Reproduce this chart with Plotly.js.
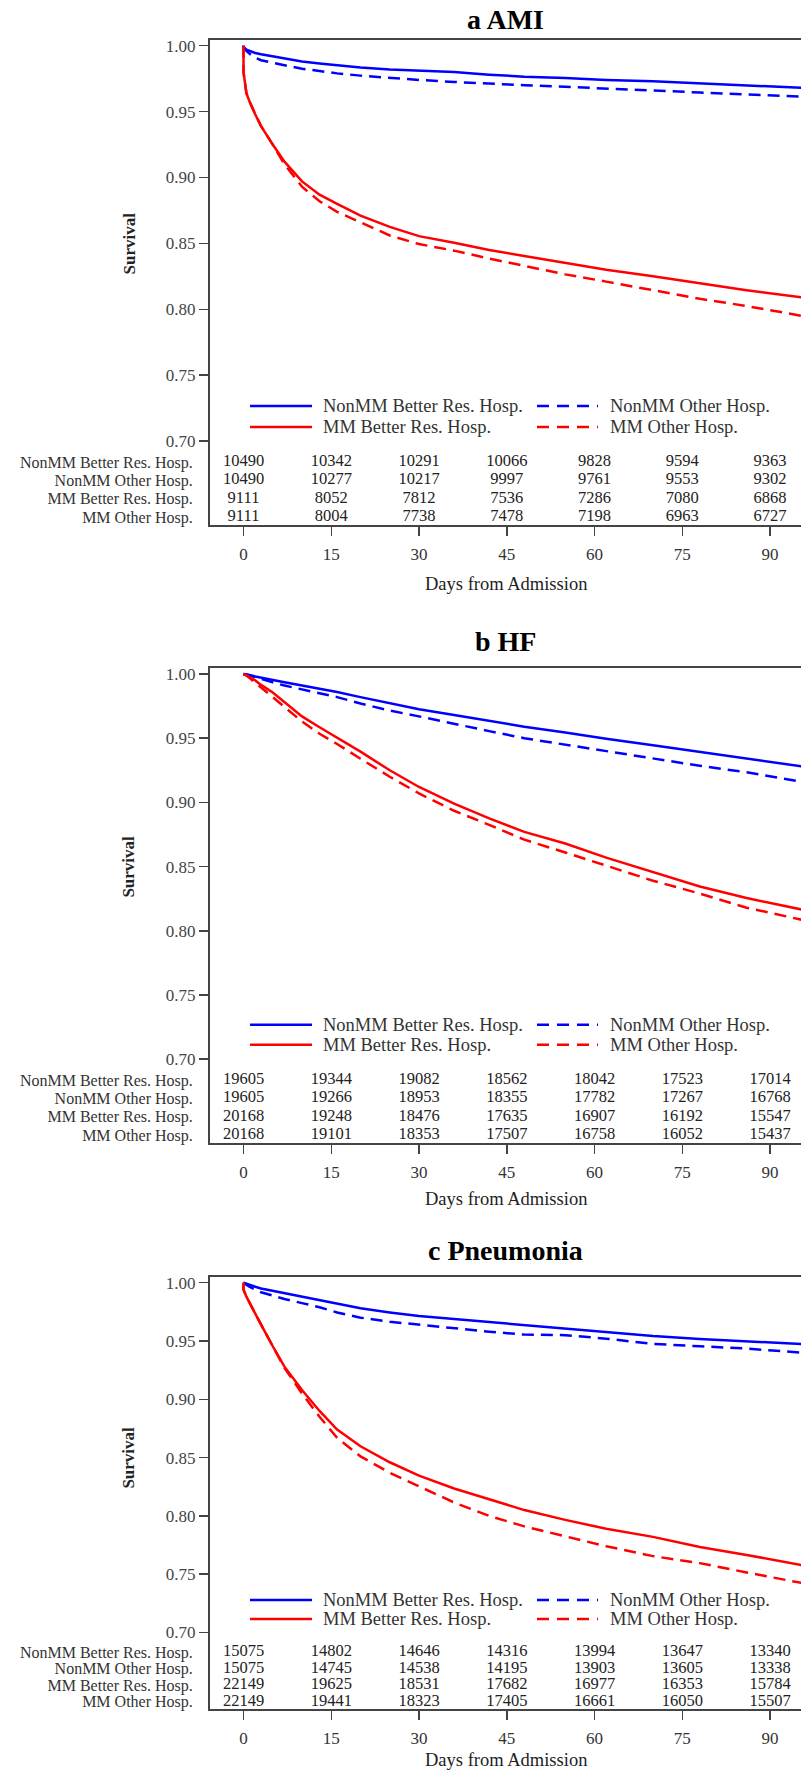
<!DOCTYPE html>
<html><head><meta charset="utf-8">
<script src="https://cdn.plot.ly/plotly-3.0.1.min.js"></script>
<style>html,body{margin:0;padding:0;background:#fff;overflow:hidden}#chart{width:801px;height:1771px}</style>
</head><body><div id="chart"></div>
<script>
// ---------------- DATA ----------------
const panelTitles = ['a AMI', 'b HF', 'c Pneumonia'];
const seriesNames = ['NonMM Better Res. Hosp.', 'NonMM Other Hosp.', 'MM Better Res. Hosp.', 'MM Other Hosp.'];
const xAxisTitle = 'Days from Admission';
const yAxisTitle = 'Survival';
const tickDays = [0, 15, 30, 45, 60, 75, 90];
const survivalTicks = [0.70, 0.75, 0.80, 0.85, 0.90, 0.95, 1.00];

const days = [0, 0, 0.5, 1, 2, 3, 5, 7, 10, 13, 16, 20, 25, 30, 36, 42, 48, 55, 62, 70, 78, 86, 95.5];

// a AMI
const amiNonMMBetter = [1.000, 0.999, 0.997, 0.996, 0.9945, 0.9935, 0.992, 0.990, 0.988, 0.9865, 0.985, 0.9835, 0.982, 0.981, 0.980, 0.978, 0.9765, 0.9755, 0.974, 0.973, 0.9715, 0.970, 0.968];
const amiNonMMOther  = [1.000, 0.999, 0.996, 0.994, 0.991, 0.989, 0.987, 0.985, 0.9825, 0.9808, 0.979, 0.9773, 0.9755, 0.974, 0.9725, 0.971, 0.970, 0.9688, 0.9677, 0.966, 0.9645, 0.963, 0.9613];
const amiMMBetter    = [1.000, 0.980, 0.964, 0.958, 0.948, 0.939, 0.925, 0.912, 0.897, 0.887, 0.880, 0.871, 0.8625, 0.8555, 0.8505, 0.845, 0.8405, 0.835, 0.830, 0.825, 0.8195, 0.8145, 0.809];
const amiMMOther     = [1.000, 0.980, 0.964, 0.958, 0.948, 0.939, 0.925, 0.910, 0.893, 0.882, 0.874, 0.866, 0.856, 0.8495, 0.8445, 0.8385, 0.833, 0.8265, 0.821, 0.8145, 0.808, 0.8025, 0.795];

// b HF
const hfNonMMBetter = [1.000, 1.000, 0.9997, 0.9993, 0.998, 0.997, 0.995, 0.9935, 0.991, 0.9885, 0.986, 0.982, 0.977, 0.9725, 0.968, 0.9635, 0.959, 0.9545, 0.9495, 0.9445, 0.9395, 0.9345, 0.928];
const hfNonMMOther  = [1.000, 1.000, 0.9996, 0.999, 0.9975, 0.996, 0.9935, 0.991, 0.988, 0.985, 0.982, 0.977, 0.9715, 0.967, 0.961, 0.9555, 0.950, 0.945, 0.940, 0.934, 0.9285, 0.9235, 0.916];
const hfMMBetter    = [1.000, 1.000, 0.999, 0.9975, 0.995, 0.9915, 0.9856, 0.978, 0.967, 0.9585, 0.9505, 0.9395, 0.925, 0.912, 0.899, 0.8875, 0.877, 0.868, 0.857, 0.8455, 0.8345, 0.8255, 0.8165];
const hfMMOther     = [1.000, 1.000, 0.999, 0.997, 0.9935, 0.9895, 0.982, 0.9745, 0.963, 0.9535, 0.9455, 0.934, 0.920, 0.907, 0.8935, 0.8825, 0.871, 0.861, 0.8505, 0.839, 0.829, 0.818, 0.8085];

// c Pneumonia
const pnNonMMBetter = [1.000, 1.000, 0.999, 0.998, 0.9965, 0.995, 0.993, 0.991, 0.9875, 0.9845, 0.9815, 0.978, 0.9745, 0.9715, 0.9688, 0.9662, 0.964, 0.961, 0.9578, 0.9543, 0.9518, 0.9495, 0.9473];
const pnNonMMOther  = [1.000, 1.000, 0.998, 0.9965, 0.994, 0.9918, 0.989, 0.986, 0.9825, 0.979, 0.9745, 0.970, 0.9665, 0.964, 0.9606, 0.958, 0.9555, 0.955, 0.952, 0.9475, 0.9455, 0.9435, 0.940];
const pnMMBetter    = [1.000, 0.994, 0.988, 0.983, 0.973, 0.964, 0.9455, 0.928, 0.908, 0.890, 0.874, 0.8597, 0.846, 0.8345, 0.8235, 0.8145, 0.805, 0.7966, 0.789, 0.782, 0.7734, 0.7665, 0.7578];
const pnMMOther     = [1.000, 0.994, 0.988, 0.983, 0.973, 0.964, 0.9455, 0.927, 0.905, 0.885, 0.867, 0.851, 0.837, 0.8255, 0.8115, 0.800, 0.791, 0.7825, 0.774, 0.7655, 0.7595, 0.7515, 0.7424];

// numbers at risk (rows follow seriesNames, columns follow tickDays)
const amiAtRiskNonMMBetter = [10490, 10342, 10291, 10066, 9828, 9594, 9363];
const amiAtRiskNonMMOther  = [10490, 10277, 10217, 9997, 9761, 9553, 9302];
const amiAtRiskMMBetter    = [9111, 8052, 7812, 7536, 7286, 7080, 6868];
const amiAtRiskMMOther     = [9111, 8004, 7738, 7478, 7198, 6963, 6727];

const hfAtRiskNonMMBetter = [19605, 19344, 19082, 18562, 18042, 17523, 17014];
const hfAtRiskNonMMOther  = [19605, 19266, 18953, 18355, 17782, 17267, 16768];
const hfAtRiskMMBetter    = [20168, 19248, 18476, 17635, 16907, 16192, 15547];
const hfAtRiskMMOther     = [20168, 19101, 18353, 17507, 16758, 16052, 15437];

const pnAtRiskNonMMBetter = [15075, 14802, 14646, 14316, 13994, 13647, 13340];
const pnAtRiskNonMMOther  = [15075, 14745, 14538, 14195, 13903, 13605, 13338];
const pnAtRiskMMBetter    = [22149, 19625, 18531, 17682, 16977, 16353, 15784];
const pnAtRiskMMOther     = [22149, 19441, 18323, 17405, 16661, 16050, 15507];

// ---------------- STYLE / LAYOUT ----------------
const curves = [
  [amiNonMMBetter, amiNonMMOther, amiMMBetter, amiMMOther],
  [hfNonMMBetter, hfNonMMOther, hfMMBetter, hfMMOther],
  [pnNonMMBetter, pnNonMMOther, pnMMBetter, pnMMOther]
];
const atRisk = [
  [amiAtRiskNonMMBetter, amiAtRiskNonMMOther, amiAtRiskMMBetter, amiAtRiskMMOther],
  [hfAtRiskNonMMBetter, hfAtRiskNonMMOther, hfAtRiskMMBetter, hfAtRiskMMOther],
  [pnAtRiskNonMMBetter, pnAtRiskNonMMOther, pnAtRiskMMBetter, pnAtRiskMMOther]
];
const lineColors = ['#0000ff', '#0000ff', '#ff0000', '#ff0000'];
const lineDash = ['solid', '12px,7px', 'solid', '12px,7px'];
const legendDash = ['solid', '12px,8px', 'solid', '12px,8px'];

const W = 801, H = 1771;
const fx = p => p / W;
const fy = p => 1 - p / H;
const serif = 'Liberation Serif, Times New Roman, serif';
const axisColor = '#444';

const plotLeft = 210, day0px = 243.5, pxPerDay = 5.85;
const xRange = [(plotLeft - day0px) / pxPerDay, (W - day0px) / pxPerDay];

const geom = [
  {top: 40,     bottom: 525,    y100: 45.7,   px005: 65.9, row0: 462,  rowStep: 18.3, leg: [406, 427],      title: 20,   xTitle: 584},
  {top: 668.3,  bottom: 1142.7, y100: 674,    px005: 64.2, row0: 1080, rowStep: 18.3, leg: [1024.7, 1044.7], title: 642, xTitle: 1199},
  {top: 1276.7, bottom: 1709,   y100: 1282.7, px005: 58.3, row0: 1652, rowStep: 16.6, leg: [1600, 1619],    title: 1250, xTitle: 1760}
];

const traces = [];
const layout = {
  width: W, height: H,
  margin: {l: 0, r: 0, t: 0, b: 0},
  paper_bgcolor: '#fff', plot_bgcolor: '#fff',
  showlegend: false,
  font: {family: serif, color: '#222'},
  annotations: [], shapes: []
};

geom.forEach((g, i) => {
  const xName = i === 0 ? 'x' : 'x' + (i + 1);
  const yMain = 'y' + (i === 0 ? '' : (2 * i + 1));
  const yTab = 'y' + (2 * i + 2);
  const xKey = 'xaxis' + (i === 0 ? '' : (i + 1));
  const yMainKey = 'yaxis' + (i === 0 ? '' : (2 * i + 1));
  const yTabKey = 'yaxis' + (2 * i + 2);

  const perUnit = g.px005 / 0.05;
  const topVal = 1 + (g.y100 - g.top) / perUnit;
  const botVal = topVal - (g.bottom - g.top) / perUnit;
  const topR = -(g.row0 - g.top) / g.rowStep;
  const botR = topR + (g.bottom - g.top) / g.rowStep;
  const domY = [fy(g.bottom), fy(g.top)];

  layout[xKey] = {
    domain: [fx(plotLeft), 1], anchor: yMain, range: xRange,
    tickvals: tickDays, ticks: 'outside', ticklen: 9, tickwidth: 1.5, tickcolor: axisColor,
    ticklabelstandoff: 4,
    showline: true, linewidth: 2, linecolor: axisColor, mirror: true,
    showgrid: false, zeroline: false,
    tickfont: {family: serif, size: 17, color: '#333'}
  };
  layout[yMainKey] = {
    domain: domY, anchor: xName, range: [botVal, topVal],
    tickvals: survivalTicks, tickformat: '.2f',
    ticks: 'outside', ticklen: 9, tickwidth: 1.5, tickcolor: axisColor,
    showline: true, linewidth: 2, linecolor: axisColor, mirror: false,
    showgrid: false, zeroline: false,
    tickfont: {family: serif, size: 17, color: '#444'}
  };
  layout[yTabKey] = {
    overlaying: yMain, anchor: xName, side: 'left',
    type: 'category', categoryarray: seriesNames, categoryorder: 'array',
    range: [botR, topR],
    tickmode: 'array', tickvals: seriesNames, ticktext: seriesNames,
    ticks: 'outside', ticklen: 13, tickcolor: 'rgba(0,0,0,0)',
    showline: false, showgrid: false, zeroline: false,
    tickfont: {family: serif, size: 16, color: '#333'}
  };

  curves[i].forEach((vals, k) => {
    traces.push({
      type: 'scatter', mode: 'lines', name: seriesNames[k],
      x: days, y: vals, xaxis: xName, yaxis: yMain,
      line: {color: lineColors[k], width: 2.5, dash: lineDash[k]},
      hoverinfo: 'skip'
    });
  });
  atRisk[i].forEach((row, k) => {
    traces.push({
      type: 'scatter', mode: 'text', name: seriesNames[k] + ' at risk',
      x: tickDays, y: tickDays.map(() => seriesNames[k]),
      text: row.map(String), textposition: 'middle center',
      textfont: {family: serif, size: 16.5, color: '#222'},
      xaxis: xName, yaxis: yTab, hoverinfo: 'skip', cliponaxis: false
    });
  });

  const plotMid = (plotLeft + W) / 2;
  layout.annotations.push({
    text: '<b>' + panelTitles[i] + '</b>', xref: 'paper', yref: 'paper',
    x: fx(plotMid), y: fy(g.title), xanchor: 'center', yanchor: 'middle', showarrow: false,
    font: {family: serif, size: 28, color: '#000'}
  });
  layout.annotations.push({
    text: xAxisTitle, xref: 'paper', yref: 'paper',
    x: fx(plotMid), y: fy(g.xTitle), xanchor: 'center', yanchor: 'middle', showarrow: false,
    font: {family: serif, size: 18.5, color: '#222'}
  });
  const y70px = g.y100 + 6 * g.px005;
  layout.annotations.push({
    text: '<b>' + yAxisTitle + '</b>', xref: 'paper', yref: 'paper', textangle: -90,
    x: fx(129), y: fy((g.y100 + y70px) / 2), xanchor: 'center', yanchor: 'middle', showarrow: false,
    font: {family: serif, size: 17, color: '#222'}
  });

  // legend inside each panel
  const lineX = [[250, 312], [537, 598]];
  const textX = [321, 608];
  seriesNames.forEach((nm, k) => {
    const col = k % 2, row = Math.floor(k / 2);
    const yy = fy(g.leg[row]);
    layout.shapes.push({
      type: 'line', xref: 'paper', yref: 'paper',
      x0: fx(lineX[col][0]), x1: fx(lineX[col][1]), y0: yy, y1: yy,
      line: {color: lineColors[k], width: 2.5, dash: legendDash[k]}
    });
    layout.annotations.push({
      text: nm, xref: 'paper', yref: 'paper', x: fx(textX[col]), y: yy,
      xanchor: 'left', yanchor: 'middle', showarrow: false,
      font: {family: serif, size: 18.5, color: '#333'}
    });
  });
});

Plotly.newPlot('chart', traces, layout, {staticPlot: true, displayModeBar: false});
</script>
</body></html>
